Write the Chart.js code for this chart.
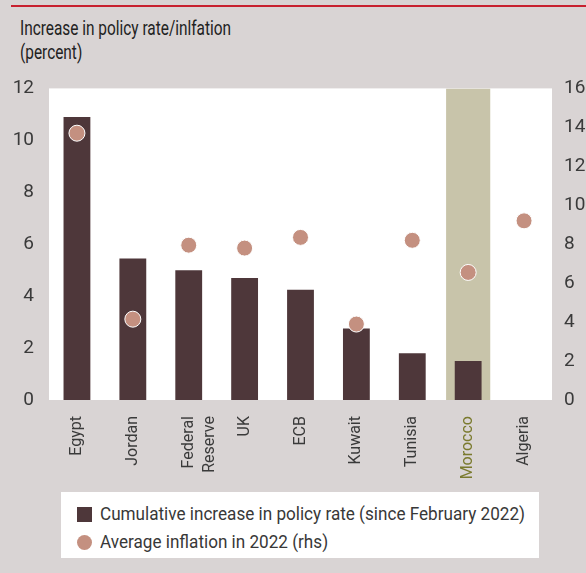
<!DOCTYPE html>
<html>
<head>
<meta charset="utf-8">
<script src="https://cdn.jsdelivr.net/npm/chart.js@4"></script>
<style>
  body { margin: 0; width: 586px; height: 573px; background: #d9d4d4; position: relative; overflow: hidden;
         font-family: Roboto, sans-serif; color: #222; }
  #topline { position: absolute; left: 11px; right: 0; top: 5px; height: 2px; background: #c8202f; }
  #title { position: absolute; left: 20px; top: 16px; font-size: 21px; line-height: 24px; font-weight: 400;
           transform-origin: 0 0; white-space: nowrap; }
  #chartbox { position: absolute; left: 0; top: 70px; width: 586px; height: 420px; }
  #legend { position: absolute; left: 61px; top: 492px; width: 478px; height: 66px; background: #fff; }
  .item { position: absolute; left: 16px; font-size: 18px; line-height: 22px; color: #383838; white-space: nowrap; font-weight: 400; }
  .sw { position: absolute; left: 0; top: 4px; width: 15px; height: 15px; }
  .txt { position: absolute; left: 23px; top: 0; transform-origin: 0 0; }
</style>
</head>
<body>
<div id="topline"></div>
<div id="title"><span id="t1">Increase in policy rate/inlfation</span><br>(percent)</div>
<div id="chartbox"><canvas id="chart"></canvas></div>
<div id="legend">
  <div class="item" style="top:11px"><span class="sw" style="background:#4e373a"></span><span class="txt" id="l1">Cumulative increase in policy rate (since February 2022)</span></div>
  <div class="item" style="top:39px"><span class="sw" style="background:#c49080;border-radius:50%"></span><span class="txt" id="l2">Average inflation in 2022 (rhs)</span></div>
</div>
<script>
// Policy rate increases vs. average inflation

const categories = ['Egypt', 'Jordan', ['Federal', 'Reserve'], 'UK', 'ECB', 'Kuwait', 'Tunisia', 'Morocco', 'Algeria'];
const rateIncrease = [10.9, 5.45, 5.0, 4.7, 4.25, 2.75, 1.8, 1.5, null];
const avgInflation = [13.7, 4.15, 7.95, 7.8, 8.35, 3.9, 8.2, 6.55, 9.2];
const highlightBand = [null, null, null, null, null, null, null, 12, null];
const leftTicks = [0, 2, 4, 6, 8, 10, 12];
const rightTicks = [0, 2, 4, 6, 8, 10, 12, 14, 16];

// squeeze html text to the condensed widths of the original
function squeeze(refEl, targetWidth, els) {
  const k = targetWidth / refEl.getBoundingClientRect().width;
  els.forEach(el => { el.style.transform = `scaleX(${k})`; });
}
squeeze(document.getElementById('t1'), 211, [document.getElementById('title')]);
squeeze(document.getElementById('l1'), 425, [document.getElementById('l1'), document.getElementById('l2')]);

const plotBg = {
  id: 'plotBg',
  beforeDraw(chart) {
    const a = chart.chartArea;
    const ctx = chart.ctx;
    ctx.save();
    ctx.fillStyle = '#ffffff';
    ctx.fillRect(a.left, a.top, a.right - a.left, a.bottom - a.top);
    ctx.restore();
  }
};

const yFont = { family: 'Roboto, sans-serif', size: 19, weight: 400 };
const xFont = { family: 'Roboto, sans-serif', size: 16, weight: 400, lineHeight: 1.3 };

new Chart(document.getElementById('chart'), {
  type: 'bar',
  data: {
    labels: categories,
    datasets: [
      {
        label: 'Morocco',
        data: highlightBand,
        backgroundColor: '#c8c4aa',
        barPercentage: 0.79,
        categoryPercentage: 1,
        grouped: false,
        order: 3,
        yAxisID: 'y'
      },
      {
        label: 'Cumulative increase in policy rate (since February 2022)',
        data: rateIncrease,
        backgroundColor: '#4e373a',
        barPercentage: 0.48,
        categoryPercentage: 1,
        grouped: false,
        order: 2,
        yAxisID: 'y'
      },
      {
        type: 'line',
        label: 'Average inflation in 2022 (rhs)',
        data: avgInflation,
        showLine: false,
        pointRadius: 8,
        pointBackgroundColor: '#c49080',
        pointBorderColor: '#ffffff',
        pointBorderWidth: 1,
        order: 1,
        yAxisID: 'y2'
      }
    ]
  },
  options: {
    responsive: true,
    maintainAspectRatio: false,
    animation: false,
    layout: { padding: { top: 15, left: 0, right: 0, bottom: 10 } },
    plugins: { legend: { display: false }, tooltip: { enabled: false } },
    scales: {
      x: {
        grid: { display: false },
        border: { display: false },
        ticks: {
          font: xFont,
          minRotation: 90,
          maxRotation: 90,
          padding: 8,
          autoSkip: false,
          color: ctx => ctx.index === 7 ? '#7a7a2e' : '#3a3a3a'
        },
        afterFit: s => { s.height = 80; }
      },
      y: {
        position: 'left',
        min: 0,
        max: 12,
        grid: { display: false },
        border: { display: false },
        afterBuildTicks: s => { s.ticks = leftTicks.map(v => ({ value: v })); },
        ticks: { font: yFont, color: '#3a3a3a', padding: 7 },
        afterFit: s => { s.width = 49; }
      },
      y2: {
        position: 'right',
        min: 0,
        max: 16,
        grid: { display: false },
        border: { display: false },
        afterBuildTicks: s => { s.ticks = rightTicks.map(v => ({ value: v })); },
        ticks: { font: yFont, color: '#3a3a3a', padding: 4 },
        afterFit: s => { s.width = 34; }
      }
    }
  },
  plugins: [plotBg]
});
</script>
</body>
</html>
